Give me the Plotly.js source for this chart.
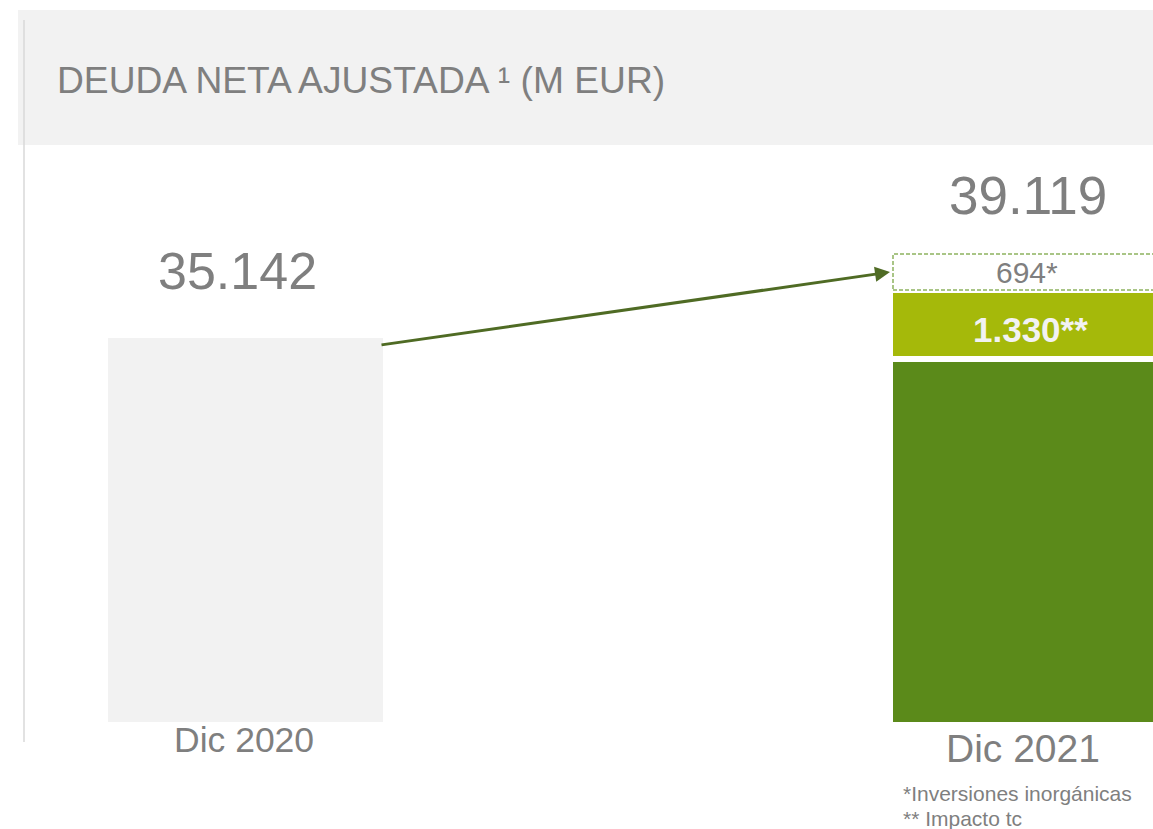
<!DOCTYPE html>
<html>
<head>
<meta charset="utf-8">
<script src="https://cdn.plot.ly/plotly-3.0.1.min.js"></script>
<style>
  html, body { margin: 0; padding: 0; background: #ffffff; }
  #chart { width: 1153px; height: 829px; }
</style>
</head>
<body>
<div id="chart"></div>
<script>
// ---- Data ----
const categories = ['Dic 2020', 'Dic 2021'];
const total2020 = 35142;
const total2021 = 39119;
const fxImpact = 1330;      // ** Impacto tc
const inorganic = 694;      // * Inversiones inorgánicas
const base2021 = total2021 - fxImpact - inorganic;
const totalLabels = ['35.142', '39.119'];
const fxLabel = '1.330**';
const inorganicLabel = '694*';
const footnotes = ['*Inversiones inorgánicas', '** Impacto tc'];
const titleText = 'DEUDA NETA AJUSTADA ¹ (M EUR)';

// ---- Geometry / style ----
const W = 1153, H = 829;
const PLOT_TOP = 150, PLOT_BOTTOM = 722;
const PLOT_H = PLOT_BOTTOM - PLOT_TOP;
const UNIT = 785;                       // px per category step
const X_RANGE = [-245.5 / UNIT, -245.5 / UNIT + W / UNIT];
const W2020 = 275 / UNIT;
const W2021 = 281 / UNIT;
const GAP_LINE = 6;
const FONT = 'Liberation Sans, Arial, sans-serif';
const GREY = '#7f7f7f';
const DARK_GREEN = '#5b8a1a';
const LIGHT_GREEN = '#a5b90a';
const ARROW = '#4f6b24';
const py = px => (PLOT_BOTTOM - px) / PLOT_H;   // pixel -> paper y
const px2x = px => px / W;                       // pixel -> paper x

const traces = [
  {
    type: 'bar', x: [categories[0]], y: [total2020], yaxis: 'y', width: W2020,
    marker: { color: '#f2f2f2', line: { width: 0 } },
    hoverinfo: 'skip', showlegend: false
  },
  {
    type: 'bar', x: [categories[1]], y: [base2021], yaxis: 'y2', width: W2021,
    marker: { color: DARK_GREEN, line: { color: '#ffffff', width: GAP_LINE } },
    hoverinfo: 'skip', showlegend: false
  },
  {
    type: 'bar', x: [categories[1]], y: [fxImpact], yaxis: 'y2', width: W2021,
    marker: { color: LIGHT_GREEN, line: { color: '#ffffff', width: GAP_LINE } },
    hoverinfo: 'skip', showlegend: false
  }
];

const annotations = [
  { xref: 'x', yref: 'y', x: categories[0], y: total2020, text: totalLabels[0],
    showarrow: false, yanchor: 'middle', yshift: 67.5, xshift: -8.5,
    font: { family: FONT, size: 52, color: GREY } },
  { xref: 'x', yref: 'y2', x: categories[1], y: total2021, text: totalLabels[1],
    showarrow: false, yanchor: 'middle', yshift: 59, xshift: -3,
    font: { family: FONT, size: 53, color: GREY } },
  { xref: 'x', yref: 'y2', x: categories[1], y: base2021 + fxImpact + inorganic / 2, text: inorganicLabel,
    showarrow: false, yanchor: 'middle', yshift: 0, xshift: -3.5,
    font: { family: FONT, size: 30, color: GREY } },
  { xref: 'x', yref: 'y2', x: categories[1], y: base2021 + fxImpact / 2, text: fxLabel,
    showarrow: false, yanchor: 'middle', yshift: -5, xshift: 0,
    font: { family: FONT, size: 35, color: '#f2f2f2', weight: 'bold' } },
  { xref: 'x', yref: 'paper', x: categories[0], y: py(740), text: categories[0],
    showarrow: false, yanchor: 'middle', xshift: -1.5,
    font: { family: FONT, size: 35.5, color: GREY } },
  { xref: 'x', yref: 'paper', x: categories[1], y: py(748), text: categories[1],
    showarrow: false, yanchor: 'middle', xshift: -7.5,
    font: { family: FONT, size: 39, color: GREY } },
  { xref: 'paper', yref: 'paper', x: px2x(901), y: py(793), text: footnotes[0],
    showarrow: false, xanchor: 'left', yanchor: 'middle',
    font: { family: FONT, size: 21, color: GREY } },
  { xref: 'paper', yref: 'paper', x: px2x(901), y: py(818), text: footnotes[1],
    showarrow: false, xanchor: 'left', yanchor: 'middle',
    font: { family: FONT, size: 21, color: GREY } },
  // arrow from Dic 2020 bar to the inorganic box
  { xref: 'x', yref: 'y2', x: 1 - W2021 / 2, y: base2021 + fxImpact + inorganic / 2,
    axref: 'pixel', ayref: 'pixel', ax: -510, ay: 73, text: '',
    showarrow: true, arrowhead: 2, arrowsize: 1, arrowwidth: 3, arrowcolor: ARROW,
    standoff: 0, startstandoff: 0 }
];

const shapes = [
  { type: 'rect', xref: 'paper', yref: 'paper', x0: px2x(18), x1: 1, y0: py(145), y1: py(10),
    fillcolor: '#f2f2f2', line: { width: 0 }, layer: 'below' },
  { type: 'line', xref: 'paper', yref: 'paper', x0: px2x(24), x1: px2x(24), y0: py(742), y1: py(20),
    line: { color: '#d9d9d9', width: 1.5 } },
  { type: 'rect', xref: 'x', yref: 'y2', x0: 1 - W2021 / 2 + 3 / UNIT, x1: 1.6,
    y0: base2021 + fxImpact, y1: total2021,
    fillcolor: 'rgba(0,0,0,0)', line: { color: '#8db35f', width: 1.5, dash: '4px,2px' }, layer: 'above' }
];

const layout = {
  width: W, height: H,
  margin: { l: 0, r: 0, t: PLOT_TOP, b: H - PLOT_BOTTOM, pad: 0 },
  paper_bgcolor: '#ffffff', plot_bgcolor: '#ffffff',
  barmode: 'stack',
  showlegend: false,
  title: {
    text: titleText, xref: 'container', yref: 'container',
    x: 57 / W, xanchor: 'left', y: 1 - 80 / H, yanchor: 'middle',
    font: { family: FONT, size: 37.2, color: GREY }
  },
  xaxis: { type: 'category', categoryorder: 'array', categoryarray: categories,
    range: X_RANGE, visible: false, fixedrange: true },
  yaxis: { range: [0, 52350], visible: false, fixedrange: true },
  yaxis2: { range: [30100, 41125], visible: false, fixedrange: true, overlaying: 'y' },
  annotations: annotations,
  shapes: shapes
};

Plotly.newPlot('chart', traces, layout, { displayModeBar: false, staticPlot: true });
</script>
</body>
</html>
